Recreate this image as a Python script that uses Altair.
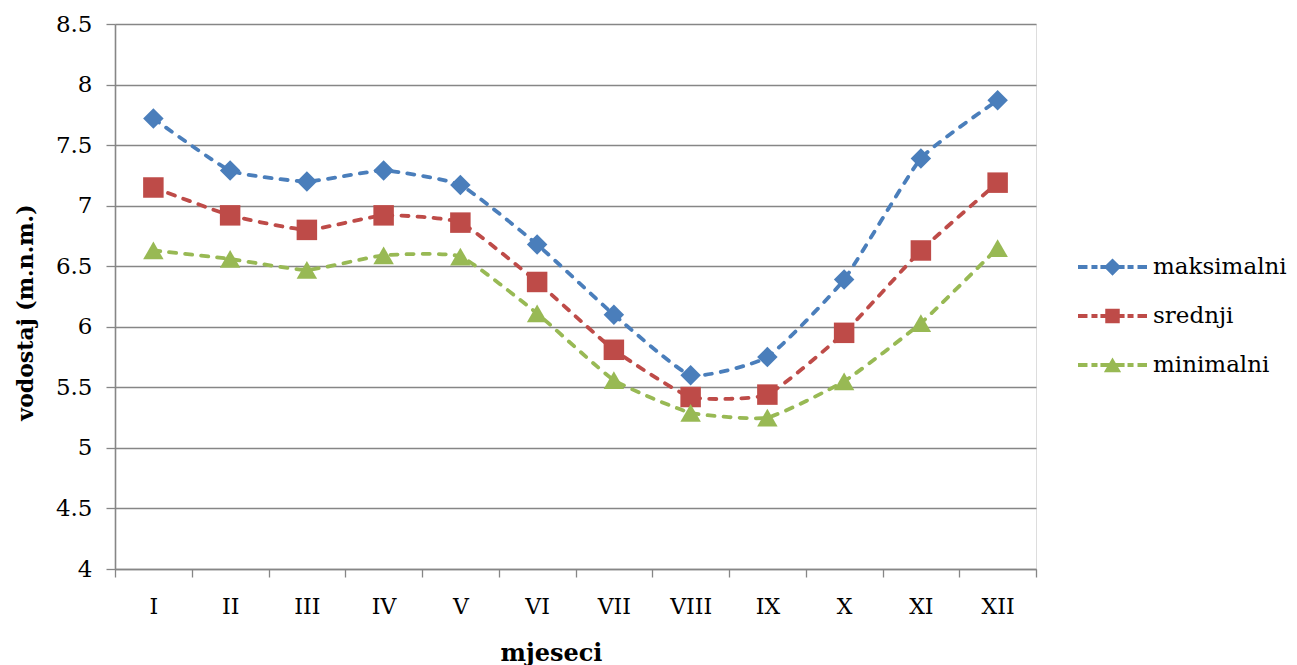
import altair as alt
import pandas as pd

months = ["I", "II", "III", "IV", "V", "VI", "VII", "VIII", "IX", "X", "XI", "XII"]
maksimalni = [7.72, 7.29, 7.20, 7.29, 7.17, 6.68, 6.10, 5.60, 5.75, 6.39, 7.39, 7.87]
srednji = [7.15, 6.92, 6.80, 6.92, 6.86, 6.37, 5.81, 5.42, 5.44, 5.95, 6.63, 7.19]
minimalni = [6.63, 6.56, 6.47, 6.59, 6.58, 6.11, 5.56, 5.29, 5.25, 5.55, 6.03, 6.65]
series = ["maksimalni", "srednji", "minimalni"]
colors = ["#4A7EBB", "#BE4B48", "#98B954"]
y_ticks = [4, 4.5, 5, 5.5, 6, 6.5, 7, 7.5, 8, 8.5]

rows = []
for name, vals in zip(series, [maksimalni, srednji, minimalni]):
    for m, v in zip(months, vals):
        rows.append({"mjesec": m, "vodostaj": v, "serija": name})
df = pd.DataFrame(rows)

FONT = "DejaVu Serif"

# legend symbols: dashed line with marker in the middle (unit space -1..1)
t = 0.058
def dashes():
    segs = [(-1, -0.725), (-0.61, -0.435), (-0.35, 0.35), (0.435, 0.61), (0.725, 1)]
    return " ".join(f"M{a},{-t}H{b}V{t}H{a}Z" for a, b in segs)
leg_diamond = dashes() + " M0,-0.25L0.25,0L0,0.25L-0.25,0Z"
leg_square = dashes() + " M-0.21,-0.21H0.21V0.21H-0.21Z"
leg_triangle = dashes() + " M0,-0.22L0.25,0.21H-0.25Z"

x_enc = alt.X(
    "mjesec:N", sort=months,
    scale=alt.Scale(type="band", domain=months, paddingInner=0, paddingOuter=0),
    axis=alt.Axis(
        title="mjeseci", tickBand="extent", labelAngle=0, grid=False,
        labelFont=FONT, labelFontSize=22, labelColor="black",
        labelBaseline="alphabetic", labelPadding=36,
        tickSize=8, tickColor="#868686", tickWidth=1.3,
        domainColor="#868686", domainWidth=1.6,
        titleFont=FONT, titleFontSize=24, titleFontWeight="bold", titleColor="black",
        titleX=436, titleY=91, titleBaseline="alphabetic", titleAlign="center",
    ),
)
y_enc = alt.Y(
    "vodostaj:Q",
    scale=alt.Scale(domain=[4, 8.5], nice=False, zero=False),
    axis=alt.Axis(
        title="vodostaj (m.n.m.)", values=y_ticks, format="~g",
        labelFont=FONT, labelFontSize=23, labelColor="black", labelPadding=14,
        tickSize=9, tickColor="#868686", tickWidth=1.3,
        domainColor="#868686", domainWidth=1.6,
        gridColor="#868686", gridWidth=1.3,
        titleFont=FONT, titleFontSize=22, titleFontWeight="bold", titleColor="black",
        titleX=-90, titleY=288, titleBaseline="middle", titleAlign="center", titleAngle=270,
    ),
)

color_scale = alt.Scale(domain=series, range=colors)

lines = alt.Chart(df).mark_line(
    strokeWidth=3.8, strokeDash=[7, 9], strokeCap="round", interpolate="cardinal", tension=0.55
).encode(
    x=x_enc, y=y_enc,
    color=alt.Color("serija:N", scale=color_scale, legend=None),
    detail="serija:N",
)

points = alt.Chart(df).mark_point(filled=True, size=420, opacity=1).encode(
    x=x_enc, y=y_enc,
    color=alt.Color("serija:N", scale=color_scale, legend=None),
    shape=alt.Shape("serija:N", scale=alt.Scale(domain=series, range=["diamond", "square", "triangle-up"]), legend=None),
)

leg_props = dict(
    title=None, orient="none", legendX=963, legendY=233,
    symbolSize=4761, symbolStrokeWidth=0, symbolOpacity=1,
    labelFont=FONT, labelFontSize=23, labelColor="black", labelOffset=6,
    clipHeight=20, rowPadding=26,
)

legend_layer = alt.Chart(df).transform_filter("datum.vodostaj < -100").mark_point(filled=True, opacity=1).encode(
    x=x_enc, y=y_enc,
    color=alt.Color("serija:N", scale=color_scale, legend=alt.Legend(**leg_props)),
    shape=alt.Shape("serija:N", scale=alt.Scale(domain=series, range=[leg_diamond, leg_square, leg_triangle]),
                    legend=alt.Legend(**leg_props)),
)

chart = alt.layer(lines, points, legend_layer).resolve_scale(
    color="independent", shape="independent"
).properties(
    width=921, height=545,
    autosize=alt.AutoSizeParams(type="none"),
    padding={"left": 115, "top": 24, "right": 261, "bottom": 96},
).configure_view(stroke="black", strokeWidth=1.6).configure(background="white")

chart.save("out.html", embed_options={"renderer": "svg", "actions": False})
